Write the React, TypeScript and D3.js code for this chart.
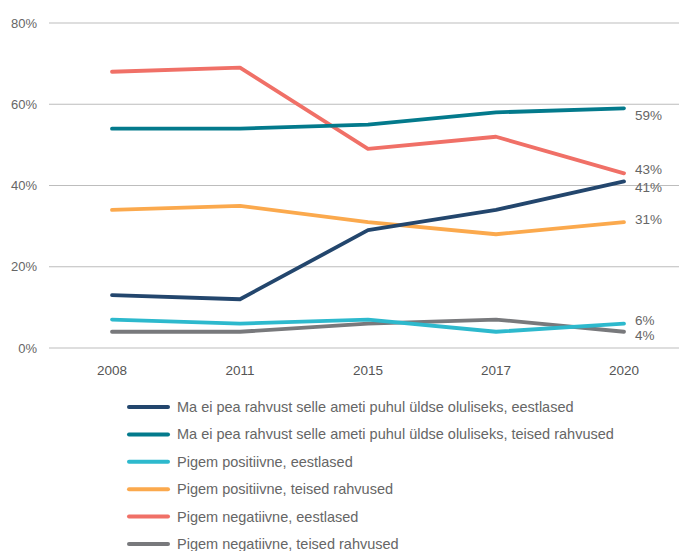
import React, { useEffect, useRef } from 'react';
import * as d3 from 'd3';

const years = ['2008', '2011', '2015', '2017', '2020'];
const yTicks = [0, 20, 40, 60, 80];

const seriesNames = [
  'Ma ei pea rahvust selle ameti puhul üldse oluliseks, eestlased',
  'Ma ei pea rahvust selle ameti puhul üldse oluliseks, teised rahvused',
  'Pigem positiivne, eestlased',
  'Pigem positiivne, teised rahvused',
  'Pigem negatiivne, eestlased',
  'Pigem negatiivne, teised rahvused',
];

const notImportantEst = [13, 12, 29, 34, 41];
const notImportantOther = [54, 54, 55, 58, 59];
const positiveEst = [7, 6, 7, 4, 6];
const positiveOther = [34, 35, 31, 28, 31];
const negativeEst = [68, 69, 49, 52, 43];
const negativeOther = [4, 4, 6, 7, 4];

const seriesValues = [
  notImportantEst,
  notImportantOther,
  positiveEst,
  positiveOther,
  negativeEst,
  negativeOther,
];

const colors = ['#23466d', '#037a8c', '#2db9cd', '#fba94d', '#f07067', '#78797c'];
// vertical nudge of the end labels so they don't collide
const labelNudge = [6, 7, -3, -3, -4, 4];

const App: React.FC = () => {
  const chartRef = useRef<SVGSVGElement>(null);

  useEffect(() => {
    const svg = d3.select(chartRef.current);
    svg.selectAll('*').remove();

    const width = 679;
    const height = 551;
    const font = '"Liberation Sans", Arial, sans-serif';

    svg.attr('width', width).attr('height', height);

    const x = d3.scalePoint<string>().domain(years).range([112, 624]);
    const y = d3.scaleLinear().domain([0, 80]).range([348, 23]);

    // grid + y labels
    const grid = svg.append('g');
    grid
      .selectAll('line')
      .data(yTicks)
      .join('line')
      .attr('x1', 49)
      .attr('x2', width)
      .attr('y1', (d) => y(d))
      .attr('y2', (d) => y(d))
      .attr('stroke', '#bdbdbd')
      .attr('stroke-width', 1.2);

    grid
      .selectAll('text')
      .data(yTicks)
      .join('text')
      .attr('x', 37)
      .attr('y', (d) => y(d))
      .attr('dy', '0.35em')
      .attr('text-anchor', 'end')
      .attr('font-family', font)
      .attr('font-size', 13)
      .attr('fill', '#666')
      .text((d) => `${d}%`);

    // x labels
    svg
      .append('g')
      .selectAll('text')
      .data(years)
      .join('text')
      .attr('x', (d) => x(d)!)
      .attr('y', 375)
      .attr('text-anchor', 'middle')
      .attr('font-family', font)
      .attr('font-size', 13.5)
      .attr('fill', '#555')
      .text((d) => d);

    const line = d3
      .line<number>()
      .x((_, i) => x(years[i])!)
      .y((d) => y(d));

    const order = [5, 2, 3, 4, 1, 0];
    order.forEach((s) => {
      svg
        .append('path')
        .datum(seriesValues[s])
        .attr('d', line)
        .attr('fill', 'none')
        .attr('stroke', colors[s])
        .attr('stroke-width', 3.8)
        .attr('stroke-linecap', 'round')
        .attr('stroke-linejoin', 'round');
    });

    // end labels
    svg
      .append('g')
      .selectAll('text')
      .data(seriesValues)
      .join('text')
      .attr('x', 635)
      .attr('y', (d, i) => y(d[d.length - 1]) + labelNudge[i])
      .attr('dy', '0.35em')
      .attr('font-family', font)
      .attr('font-size', 13.5)
      .attr('fill', '#666')
      .text((d) => `${d[d.length - 1]}%`);

    // legend
    const legendY = d3.scalePoint<string>().domain(seriesNames).range([407, 544]);
    const legend = svg
      .append('g')
      .selectAll('g')
      .data(seriesNames)
      .join('g')
      .attr('transform', (d) => `translate(0,${legendY(d)})`);

    legend
      .append('line')
      .attr('x1', 129)
      .attr('x2', 168)
      .attr('stroke', (_, i) => colors[i])
      .attr('stroke-width', 4)
      .attr('stroke-linecap', 'round');

    legend
      .append('text')
      .attr('x', 177)
      .attr('dy', '0.35em')
      .attr('font-family', font)
      .attr('font-size', 14.5)
      .attr('fill', '#666')
      .text((d) => d);
  }, []);

  return (
    <div style={{ position: 'absolute', left: 0, top: 0 }}>
      <svg ref={chartRef}></svg>
    </div>
  );
};

export default App;
